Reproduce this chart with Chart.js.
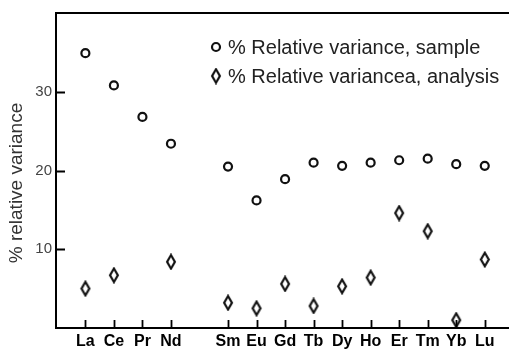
<!DOCTYPE html>
<html>
<head>
<meta charset="utf-8">
<script src="https://cdn.jsdelivr.net/npm/chart.js@4/dist/chart.umd.min.js"></script>
<style>
  html, body { margin: 0; padding: 0; background: #fff; }
  #wrap { width: 509px; height: 350px; position: relative; }
</style>
</head>
<body>
<div id="wrap"><canvas id="ree"></canvas></div>
<script>
// REE categories along x; the empty slot keeps the Pm gap between Nd and Sm
const elements = ['La', 'Ce', 'Pr', 'Nd', '', 'Sm', 'Eu', 'Gd', 'Tb', 'Dy', 'Ho', 'Er', 'Tm', 'Yb', 'Lu'];
const sampleVariance = [34.9, 30.8, 26.8, 23.4, null, 20.5, 16.2, 18.9, 21.0, 20.6, 21.0, 21.3, 21.5, 20.8, 20.6];
const analysisVariance = [5.0, 6.7, null, 8.4, null, 3.2, 2.5, 5.6, 2.8, 5.3, 6.4, 14.6, 12.3, 1.0, 8.7];
const yTicks = [10, 20, 30];
const yTitle = '% relative variance';

const FONT = "'Liberation Sans', Arial, Helvetica, sans-serif";

function toPoints(values) {
  const pts = [];
  values.forEach((v, i) => {
    if (v !== null) pts.push({ x: i, y: v });
  });
  return pts;
}

// tall open diamond marker
function makeDiamond() {
  const c = document.createElement('canvas');
  c.width = 12;
  c.height = 17;
  const g = c.getContext('2d');
  g.strokeStyle = '#111';
  g.lineWidth = 2.2;
  g.lineJoin = 'miter';
  g.beginPath();
  g.moveTo(6, 1.8);
  g.lineTo(9.9, 8.5);
  g.lineTo(6, 15.2);
  g.lineTo(2.1, 8.5);
  g.closePath();
  g.stroke();
  return c;
}
const diamond = makeDiamond();

// frame (left, top, bottom), inward tick marks, y title and the legend
const framePlugin = {
  id: 'frame',
  afterDraw(chart) {
    const ctx = chart.ctx;
    const a = chart.chartArea;
    const xs = chart.scales.x;
    const ys = chart.scales.y;
    ctx.save();
    ctx.strokeStyle = '#000';
    ctx.lineWidth = 2;
    ctx.beginPath();
    ctx.moveTo(a.left, a.bottom);
    ctx.lineTo(a.left, a.top);
    ctx.lineTo(chart.width, a.top);
    ctx.moveTo(a.left - 1, a.bottom);
    ctx.lineTo(chart.width, a.bottom);
    ctx.stroke();

    ctx.lineWidth = 1.8;
    ctx.beginPath();
    xs.ticks.forEach(t => {
      const px = Math.round(xs.getPixelForValue(t.value)) + 0.5;
      ctx.moveTo(px, a.bottom);
      ctx.lineTo(px, a.bottom - 8);
    });
    yTicks.forEach(v => {
      const py = Math.round(ys.getPixelForValue(v)) + 0.5;
      ctx.moveTo(a.left, py);
      ctx.lineTo(a.left + 9, py);
    });
    ctx.stroke();

    // rotated y-axis title
    ctx.save();
    ctx.translate(17, 183);
    ctx.rotate(-Math.PI / 2);
    ctx.font = '19px ' + FONT;
    ctx.fillStyle = '#333';
    ctx.textAlign = 'center';
    ctx.textBaseline = 'middle';
    ctx.fillText(yTitle, 0, 0);
    ctx.restore();

    // legend
    const items = [
      { y: 47, ds: chart.data.datasets[0] },
      { y: 76, ds: chart.data.datasets[1] }
    ];
    ctx.font = '20px ' + FONT;
    ctx.fillStyle = '#222';
    ctx.textBaseline = 'middle';
    items.forEach(it => {
      if (it.ds.pointStyle === 'circle') {
        ctx.strokeStyle = '#111';
        ctx.lineWidth = 2.2;
        ctx.beginPath();
        ctx.arc(216, it.y, 4, 0, Math.PI * 2);
        ctx.stroke();
      } else {
        ctx.drawImage(diamond, 216 - 6, it.y - 8.5);
      }
      ctx.fillText(it.ds.label, 228, it.y + 1);
    });
    ctx.restore();
  }
};

new Chart(document.getElementById('ree'), {
  type: 'scatter',
  data: {
    datasets: [
      {
        label: '% Relative variance, sample',
        data: toPoints(sampleVariance),
        pointStyle: 'circle',
        pointRadius: 4,
        pointHoverRadius: 4,
        borderWidth: 2.2,
        borderColor: '#111',
        backgroundColor: 'rgba(0,0,0,0)'
      },
      {
        label: '% Relative variancea, analysis',
        data: toPoints(analysisVariance),
        pointStyle: diamond,
        borderColor: '#111',
        backgroundColor: 'rgba(0,0,0,0)'
      }
    ]
  },
  options: {
    responsive: true,
    maintainAspectRatio: false,
    animation: false,
    layout: {
      autoPadding: false,
      padding: { top: 11, right: 0, bottom: 0, left: 0 }
    },
    plugins: {
      legend: { display: false },
      tooltip: { enabled: false }
    },
    scales: {
      x: {
        type: 'linear',
        min: -1.03,
        max: 14.85,
        grid: { display: false, drawTicks: false },
        border: { display: false },
        afterBuildTicks(scale) {
          scale.ticks = elements
            .map((name, i) => ({ value: i, name: name }))
            .filter(t => t.name !== '')
            .map(t => ({ value: t.value }));
        },
        afterFit(scale) {
          scale.height = 22;
        },
        ticks: {
          autoSkip: false,
          maxRotation: 0,
          padding: 4,
          color: '#000',
          font: { family: FONT, size: 16, weight: 'bold' },
          callback: (value) => elements[value] || ''
        }
      },
      y: {
        min: 0,
        max: 40,
        grid: { display: false, drawTicks: false },
        border: { display: false },
        afterBuildTicks(scale) {
          scale.ticks = yTicks.map(v => ({ value: v }));
        },
        afterFit(scale) {
          scale.width = 56;
        },
        ticks: {
          padding: 4,
          color: '#444',
          font: { family: FONT, size: 15 }
        }
      }
    }
  },
  plugins: [framePlugin]
});
</script>
</body>
</html>
